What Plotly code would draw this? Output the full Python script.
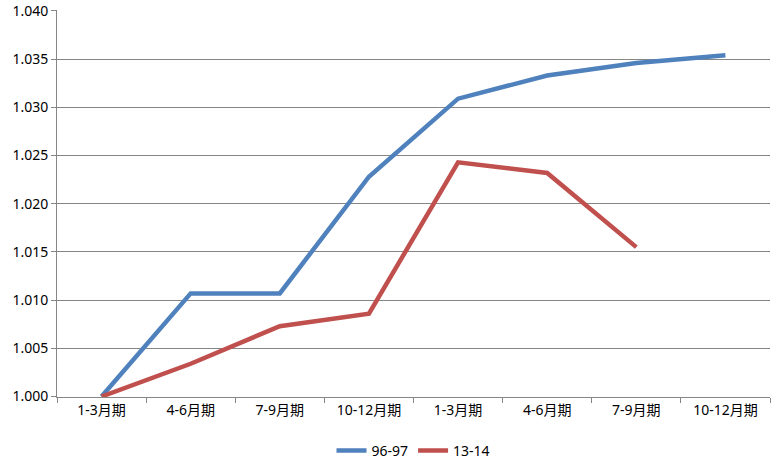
import plotly.graph_objects as go

categories = ["1-3月期", "4-6月期", "7-9月期", "10-12月期", "1-3月期", "4-6月期", "7-9月期", "10-12月期"]
series_9697 = [1.0000, 1.0107, 1.0107, 1.0228, 1.0309, 1.0333, 1.0346, 1.0354]
series_1314 = [1.0000, 1.0034, 1.0073, 1.0086, 1.0243, 1.0232, 1.0155]
y_ticks = [1.000, 1.005, 1.010, 1.015, 1.020, 1.025, 1.030, 1.035, 1.040]

x_idx = list(range(len(categories)))
font_family = "Noto Sans, Noto Sans CJK JP, sans-serif"

fig = go.Figure()
fig.add_trace(go.Scatter(x=x_idx, y=series_9697, mode="lines", name="96-97",
                         line=dict(color="#4F81BD", width=4.5)))
fig.add_trace(go.Scatter(x=x_idx[:len(series_1314)], y=series_1314, mode="lines", name="13-14",
                         line=dict(color="#C0504D", width=4.5)))

fig.update_layout(
    width=780, height=464,
    margin=dict(l=57, r=10, t=10, b=67, autoexpand=False),
    paper_bgcolor="white", plot_bgcolor="white",
    font=dict(family=font_family, size=14, color="#000000"),
    showlegend=True,
    legend=dict(orientation="h", x=0.5, xanchor="center", y=-0.139, yanchor="middle",
                font=dict(size=14), itemwidth=30),
    xaxis=dict(
        range=[-0.5, 7.5], tickmode="array", tickvals=x_idx, ticktext=categories,
        showgrid=False, showline=True, linecolor="#868686", linewidth=1,
        ticks="", zeroline=False, automargin=False,
        minor=dict(tickmode="array", tickvals=[i - 0.5 for i in range(len(categories) + 1)],
                   ticks="outside", ticklen=5, tickcolor="#868686", showgrid=False),
    ),
    yaxis=dict(
        range=[0.99995, 1.0401], tickmode="array", tickvals=y_ticks,
        ticktext=[f"{v:.3f}" for v in y_ticks], ticklabeloverflow="allow",
        showgrid=True, gridcolor="#868686", gridwidth=1,
        showline=True, linecolor="#868686", linewidth=1,
        ticks="outside", ticklen=5, tickcolor="#868686", zeroline=False,
        automargin=False,
    ),
)

fig.write_html("out.html", config={"displayModeBar": False},
               post_script="document.body.style.margin='0';document.body.style.overflow='hidden';")
